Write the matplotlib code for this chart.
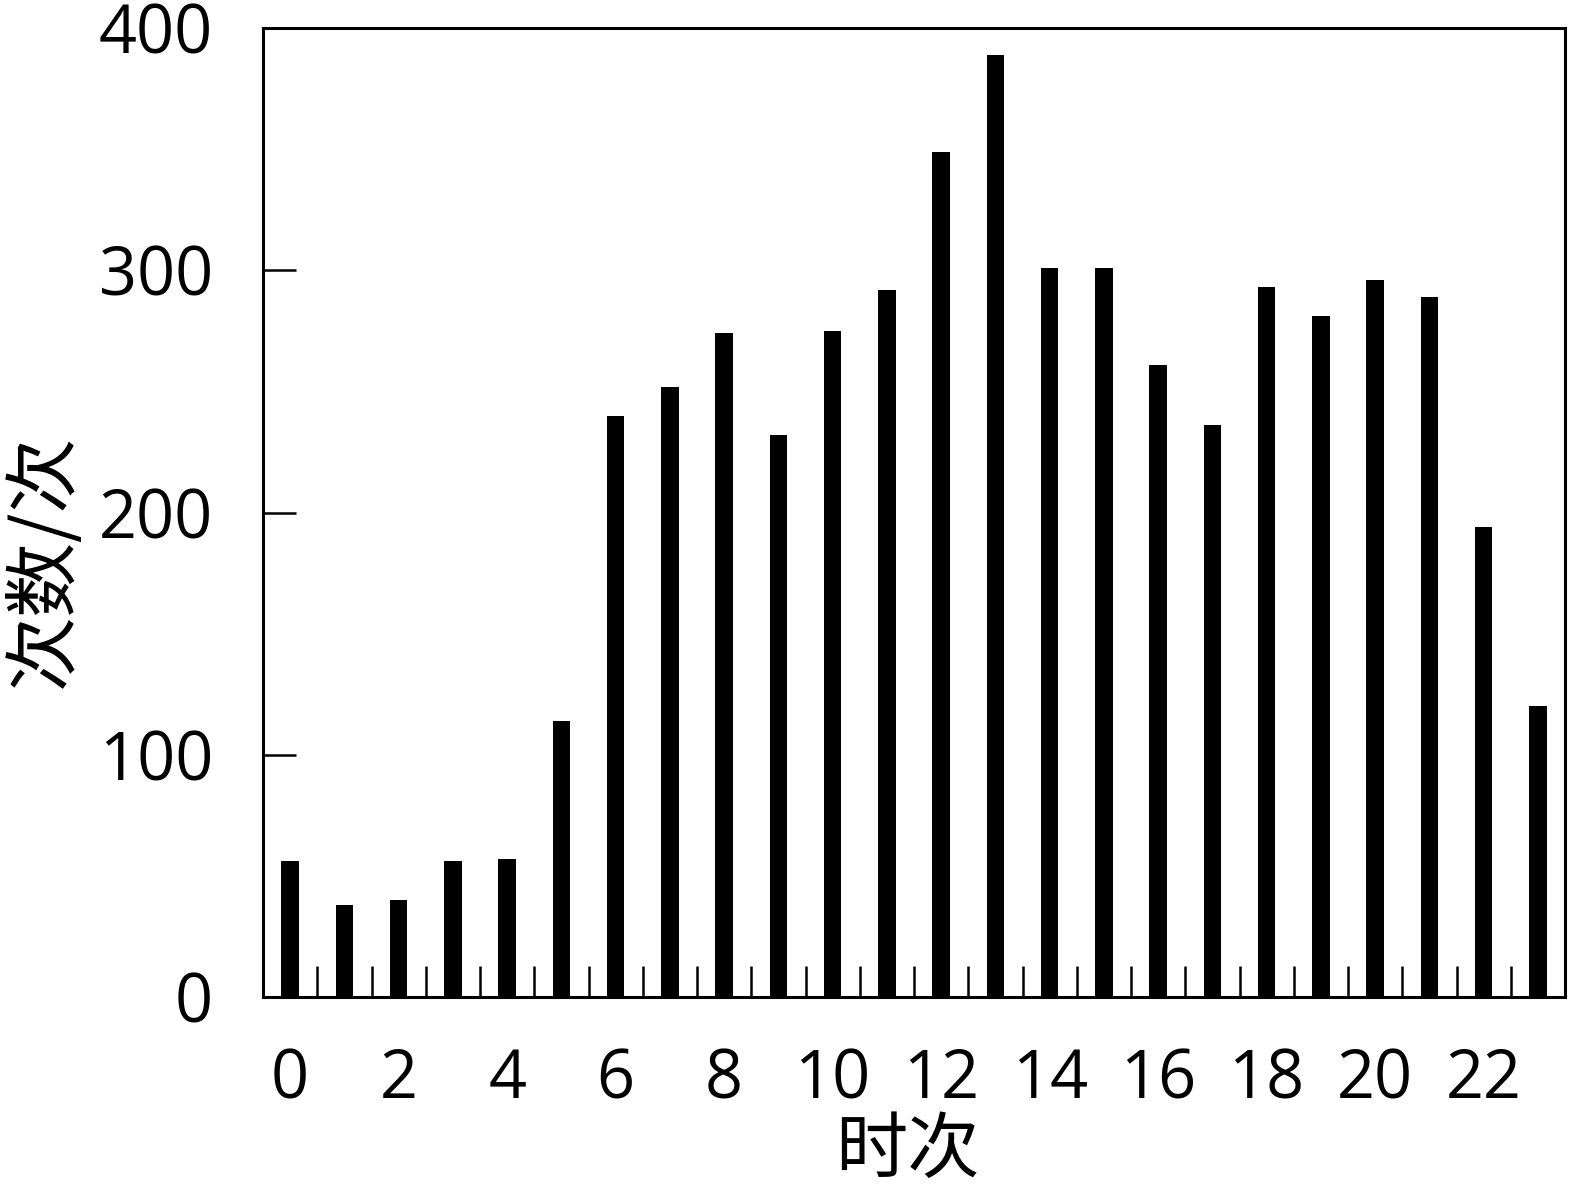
import matplotlib
matplotlib.use("Agg")
import matplotlib.pyplot as plt
import numpy as np

hours = list(range(24))
counts = [56, 38, 40, 56, 57, 114, 240, 252, 274, 232, 275, 292,
          349, 389, 301, 301, 261, 236, 293, 281, 296, 289, 194, 120]
xtick_labels = [str(h) for h in range(0, 24, 2)]
yticks = [0, 100, 200, 300, 400]

fig = plt.figure(figsize=(15.75, 11.89), dpi=100)
ax = fig.add_axes([263/1575, 1-997/1189, (1565-263)/1575, (997-28)/1189])

ax.bar(hours, counts, width=0.32, color='black')
ax.set_xlim(-0.5, 23.5)
ax.set_ylim(0, 400)

num_font = ['Open Sans', 'DejaVu Sans']
# boundaries ticks (no labels)
ax.set_xticks(np.arange(0.5, 23.5, 1.0))
ax.set_xticklabels([])
ax.tick_params(axis='x', which='major', direction='in', length=22, width=1.8)
ax.set_xticks(list(range(0, 24, 2)), minor=True)
ax.set_xticklabels(xtick_labels, minor=True, fontfamily=num_font, fontsize=48)
ax.tick_params(axis='x', which='minor', length=0, pad=36)

ax.set_yticks(yticks)
ax.set_yticklabels([str(v) for v in yticks], fontfamily=num_font, fontsize=48)
ax.tick_params(axis='y', direction='in', length=24, width=1.8, pad=36)

for s in ax.spines.values():
    s.set_linewidth(2.2)

cjk = ['Noto Sans CJK SC', 'DejaVu Sans']
ax.set_ylabel('次数/次', fontfamily=cjk, fontsize=54)
ax.yaxis.set_label_coords(-0.138, 0.45)
ax.set_xlabel('时次', fontfamily=cjk, fontsize=52)
ax.xaxis.set_label_coords(0.495, -0.122)

fig.savefig('out.png', dpi=100, facecolor='white')
